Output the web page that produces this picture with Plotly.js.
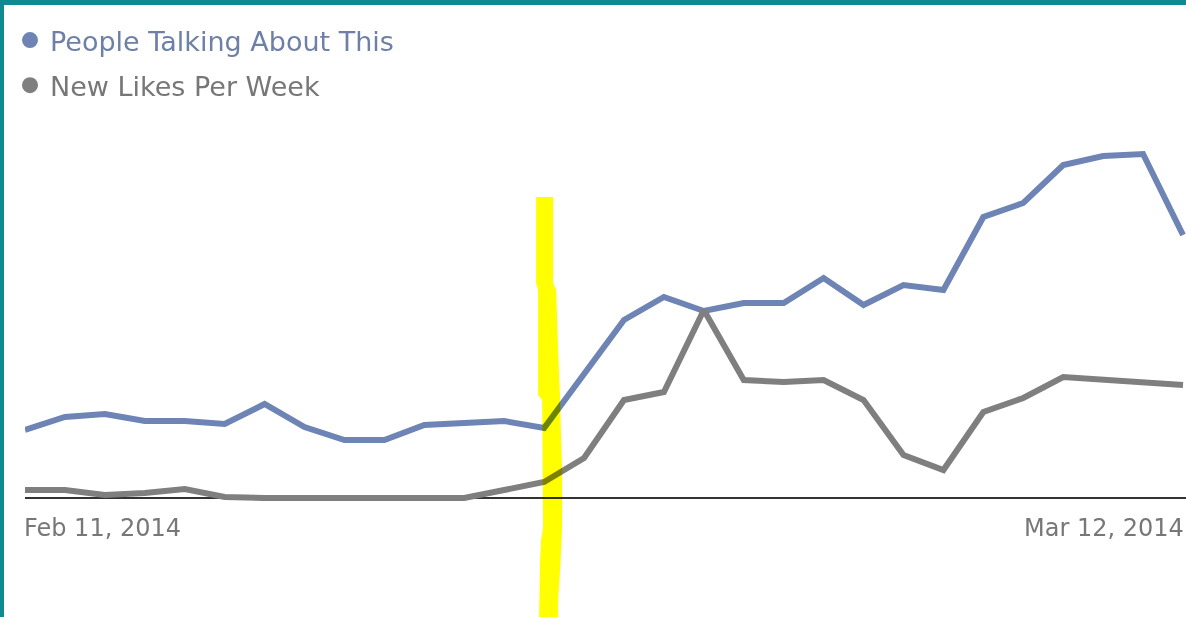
<!DOCTYPE html>
<html>
<head>
<meta charset="utf-8">
<script src="https://cdn.plot.ly/plotly-3.0.1.min.js"></script>
<style>
  html, body { margin: 0; padding: 0; background: #ffffff; }
  #frame { width: 1182px; height: 612px; border-top: 5px solid #0f8a90; border-left: 4px solid #0f8a90; }
  #chart { width: 1182px; height: 612px; }
  #chart .layer-above { mix-blend-mode: multiply; }
</style>
</head>
<body>
<div id="frame"><div id="chart"></div></div>
<script>
const dates = [
  '2014-02-11','2014-02-12','2014-02-13','2014-02-14','2014-02-15','2014-02-16',
  '2014-02-17','2014-02-18','2014-02-19','2014-02-20','2014-02-21','2014-02-22',
  '2014-02-23','2014-02-24','2014-02-25','2014-02-26','2014-02-27','2014-02-28',
  '2014-03-01','2014-03-02','2014-03-03','2014-03-04','2014-03-05','2014-03-06',
  '2014-03-07','2014-03-08','2014-03-09','2014-03-10','2014-03-11','2014-03-12'
];
const talkingAbout = [68, 81, 84, 77, 77, 74, 94, 71, 58, 58, 73, 75, 77, 70, 123,
                      178, 201, 187, 195, 195, 220, 193, 213, 208, 281, 295, 333, 342, 344, 263];
const newLikes = [8, 8, 3, 5, 9, 1, 0, 0, 0, 0, 0, 0, 8, 16, 40,
                  98, 106, 188, 118, 116, 118, 98, 43, 28, 86, 100, 121, 118, 116, 113];
const seriesNames = ['People Talking About This', 'New Likes Per Week'];
const seriesColors = ['#6d84b4', '#7f7f7f'];
const labelColors = ['#6f80a8', '#777777'];
const tickLabels = ['Feb 11, 2014', 'Mar 12, 2014'];
const markedDate = '2014-02-24';

// hand-drawn highlighter outline: [x offset in px from the marked date, px height above the plot bottom]
const plotH = 402;
const marker = [
  [-8, 305], [-8, 219], [-6, 212], [-6, 107], [-2, 102], [-1, -25], [-3, -38], [-4, -58], [-5, -115],
  [14, -115], [14, -98], [16, -68], [18, -25], [18, 32], [17, 62], [16, 102], [14, 152], [12, 212], [9, 219], [9, 305]
];
const markerPath = marker.map((p, i) => (i ? 'L' : 'M') + p[0] + ',' + (p[1] / plotH).toFixed(4)).join(' ') + ' Z';

const traces = [
  { x: dates, y: talkingAbout, mode: 'lines', line: { color: seriesColors[0], width: 6 }, showlegend: false },
  { x: dates, y: newLikes, mode: 'lines', line: { color: seriesColors[1], width: 6 }, showlegend: false },
  { x: [null], y: [null], mode: 'markers', name: '<span style="color:' + labelColors[0] + '">' + seriesNames[0] + '</span>',
    marker: { color: seriesColors[0], size: 18 }, legendgroup: 'a' },
  { x: [null], y: [null], mode: 'markers', name: '<span style="color:' + labelColors[1] + '">' + seriesNames[1] + '</span>',
    marker: { color: seriesColors[1], size: 18 }, legendgroup: 'b' }
];

const layout = {
  width: 1182, height: 612,
  margin: { l: 21, r: 0, t: 95, b: 115, autoexpand: false },
  paper_bgcolor: '#ffffff', plot_bgcolor: '#ffffff',
  font: { family: 'DejaVu Sans, sans-serif', color: '#777777' },
  showlegend: true,
  legend: {
    xref: 'container', yref: 'container', x: 6 / 1182, y: 1 - 11 / 612,
    xanchor: 'left', yanchor: 'top', bgcolor: 'rgba(0,0,0,0)',
    font: { size: 27, family: 'DejaVu Sans, sans-serif' },
    tracegroupgap: 7, traceorder: 'grouped'
  },
  xaxis: {
    type: 'date', range: ['2014-02-11', '2014-03-12 01:48'],
    showgrid: false, zeroline: false, showline: false, showticklabels: false, ticks: ''
  },
  yaxis: {
    range: [-4, 398], showgrid: false, showticklabels: false, ticks: '',
    zeroline: true, zerolinecolor: '#333333', zerolinewidth: 2, showline: false
  },
  annotations: [
    { x: dates[0], xref: 'x', y: -26 / plotH, yref: 'paper', text: tickLabels[0], showarrow: false,
      xanchor: 'left', yanchor: 'middle', xshift: -3, font: { size: 24, color: '#777777' } },
    { x: dates[dates.length - 1], xref: 'x', y: -26 / plotH, yref: 'paper', text: tickLabels[1], showarrow: false,
      xanchor: 'right', yanchor: 'middle', xshift: 3, font: { size: 24, color: '#777777' } }
  ],
  shapes: [
    { type: 'path', layer: 'above', xref: 'x', xsizemode: 'pixel', xanchor: markedDate,
      yref: 'paper', path: markerPath, fillcolor: '#ffff00', line: { width: 0 } }
  ],
  hovermode: false
};

Plotly.newPlot('chart', traces, layout, { displayModeBar: false, staticPlot: true });
</script>
</body>
</html>
